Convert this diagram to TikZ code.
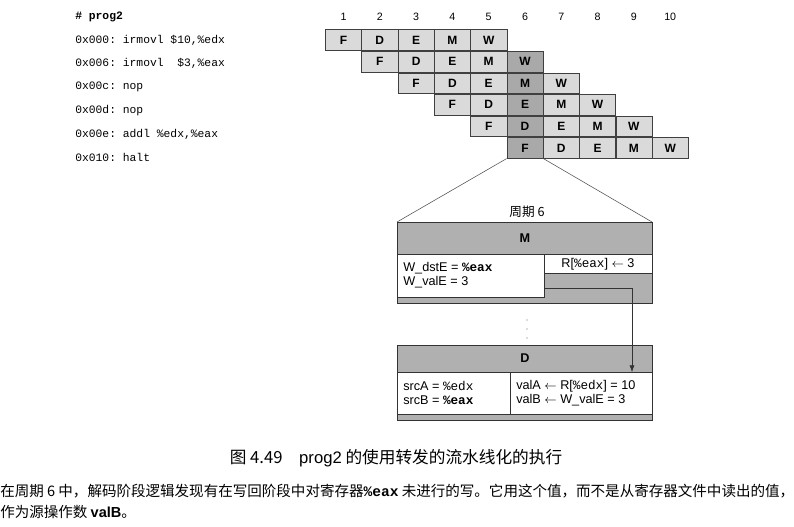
\documentclass[tikz,border=0pt]{standalone}
\usepackage{fontspec}
\setmainfont{Liberation Sans}
\setmonofont{Liberation Mono}
\newfontfamily\cjk{Noto Sans CJK SC}
\usetikzlibrary{arrows.meta}
\definecolor{cellg}{HTML}{DADADA}
\definecolor{celld}{HTML}{A9A9A9}
\definecolor{hdr}{HTML}{B0B0B0}
\begin{document}
\begin{tikzpicture}[x=0.75pt,y=-0.75pt,
  cell/.style={draw=black!75,fill=cellg,minimum width=27.2pt,minimum height=15.5pt,inner sep=0pt,font=\fontsize{9}{10}\selectfont\bfseries},
  code/.style={anchor=west,font=\ttfamily\fontsize{8.5}{9}\selectfont,inner sep=0pt},
  box/.style={draw=black!80,fill=hdr},
  wbox/.style={draw=black!80,fill=white},
  txt/.style={font=\fontsize{9.5}{10.5}\selectfont,align=left,inner sep=0pt}]
\useasboundingbox (0,0) rectangle (794,527);
% program
\node[code,font=\ttfamily\bfseries\fontsize{8.5}{9}\selectfont] (p0) at (75,17) {\# prog2};
\foreach \t [count=\i] in {{0x000: irmovl \$10,\%edx},{0x006: irmovl~~\$3,\%eax},{0x00c: nop},{0x00d: nop},{0x00e: addl \%edx,\%eax},{0x010: halt}}
  \node[code] (p\i) at (75,{17+23.4*\i}) {\t};
% column numbers
\foreach \c in {1,...,10}
  \node[font=\fontsize{8}{9}\selectfont] (n\c) at ({343.5+36.3*(\c-1)},17) {\c};
% cells
\foreach \r in {0,...,5}{
  \foreach \s/\l in {0/F,1/D,2/E,3/M,4/W}{
    \pgfmathtruncatemacro\c{\r+\s}
    \ifnum\c=5
      \node[cell,fill=celld] (c\r\s) at ({343.5+36.3*\c},{40+21.6*\r}) {\l};
    \else
      \node[cell] (c\r\s) at ({343.5+36.3*\c},{40+21.6*\r}) {\l};
    \fi
  }}
% detail
\coordinate (tl) at (397,222);
\coordinate (tr) at (652,222);
\draw[black!70] (c50.south west) -- (tl);
\draw[black!70] (c50.south east) -- (tr);
\node[font=\cjk\fontsize{9.5}{10}\selectfont] (cyc) at (527,212) {周期 6};
\draw[box] (397,222) rectangle (652,303);
\node[font=\fontsize{9.5}{10}\selectfont\bfseries] (M) at (525,238) {M};
\draw[wbox] (397,254) rectangle (544,297);
\draw[wbox] (544,254) rectangle (652,273);
\node[txt,anchor=west] (wt) at (403,275) {W\_dstE = {\ttfamily\bfseries\%eax}\\W\_valE = 3};
\node[txt] (rt) at (598,264) {R[{\ttfamily\%eax}] $\leftarrow$ 3};
\foreach \y in {320,329,338} \fill[black!60] (527,\y) circle (0.7);
\coordinate (dots) at (527,329);
\draw[box] (397,345) rectangle (652,420);
\node[font=\fontsize{9.5}{10}\selectfont\bfseries] (D) at (525,358) {D};
\draw[wbox] (397,372) rectangle (510,414);
\draw[wbox] (510,372) rectangle (652,414);
\node[txt,anchor=west] (st) at (403,393) {srcA = {\ttfamily\%edx}\\srcB = {\ttfamily\bfseries\%eax}};
\node[txt,anchor=west] (vt) at (516,393) {valA $\leftarrow$ R[{\ttfamily\%edx}] = 10\\valB $\leftarrow$ W\_valE = 3};
\coordinate (a0) at (544,288);
\coordinate (a2) at (632,372);
\draw[-{Latex[length=5pt]},black!80] (a0) -| (a2);
% caption
\node[font=\cjk\fontsize{12.5}{14}\selectfont] (cap) at (396,458) {图 4.49\quad {\fontspec{Liberation Sans}prog2} 的使用转发的流水线化的执行};
\node[anchor=west,inner sep=0pt,font=\cjk\fontsize{10.9}{12}\selectfont] (l1) at (0,491) {在周期 6 中，解码阶段逻辑发现有在写回阶段中对寄存器{\ttfamily\bfseries\%eax} 未进行的写。它用这个值，而不是从寄存器文件中读出的值，};
\node[anchor=west,inner sep=0pt,font=\cjk\fontsize{10.9}{12}\selectfont] (l2) at (0,512) {作为源操作数 {\fontspec{Liberation Sans}\bfseries valB}。};
\end{tikzpicture}
\end{document}
